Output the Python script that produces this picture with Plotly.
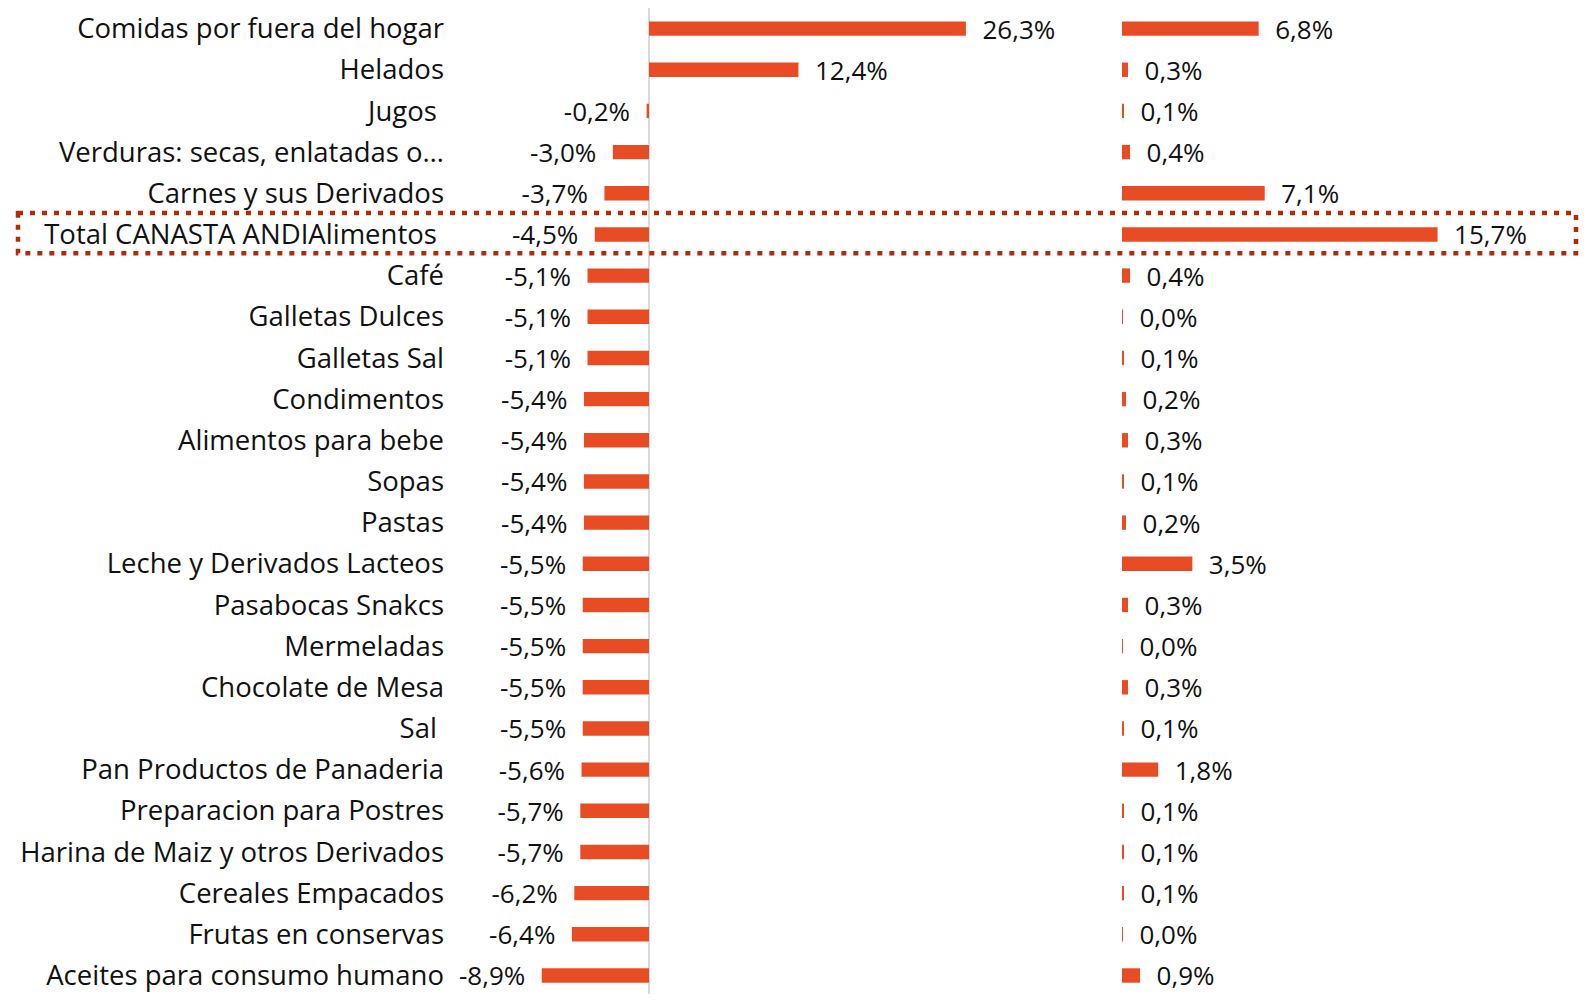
import plotly.graph_objects as go

# a página tem 8 px de margem no body: a figura começa em (8, 8)
W, H = 1572, 986

categorias = [
    "Comidas por fuera del hogar",
    "Helados",
    "Jugos\u00a0",
    "Verduras: secas, enlatadas o…",
    "Carnes y sus Derivados",
    "Total CANASTA ANDIAlimentos\u00a0",
    "Café",
    "Galletas Dulces",
    "Galletas Sal",
    "Condimentos",
    "Alimentos para bebe",
    "Sopas",
    "Pastas",
    "Leche y Derivados Lacteos",
    "Pasabocas Snakcs",
    "Mermeladas",
    "Chocolate de Mesa",
    "Sal\u00a0",
    "Pan Productos de Panaderia",
    "Preparacion para Postres",
    "Harina de Maiz y otros Derivados",
    "Cereales Empacados",
    "Frutas en conservas",
    "Aceites para consumo humano",
]

variacion = [26.3, 12.4, -0.2, -3.0, -3.7, -4.5, -5.1, -5.1, -5.1, -5.4, -5.4, -5.4,
             -5.4, -5.5, -5.5, -5.5, -5.5, -5.5, -5.6, -5.7, -5.7, -6.2, -6.4, -8.9]

participacion = [6.8, 0.3, 0.1, 0.4, 7.1, 15.7, 0.4, 0.02, 0.1, 0.2, 0.3, 0.1,
                 0.2, 3.5, 0.3, 0.02, 0.3, 0.1, 1.8, 0.1, 0.1, 0.1, 0.02, 0.9]

COR_BARRA = "#E84C25"
COR_CAIXA = "#B52A05"
FONTE = "Century Gothic, Open Sans, sans-serif"
TAM_ROTULO = 26
TAM_CAT = 27.5
PAD = "\u00a0\u00a0"


def rotulo(v):
    s = f"{v:.1f}%".replace(".", ",")
    return PAD + s if v >= 0 else s + PAD


fig = go.Figure()

for valores, eixo in [(variacion, "x"), (participacion, "x2")]:
    fig.add_trace(go.Bar(
        x=valores, y=categorias, orientation="h",
        marker=dict(color=COR_BARRA, line=dict(width=0)),
        width=0.35,
        text=[rotulo(v) for v in valores],
        textposition="outside", cliponaxis=False, constraintext="none",
        textfont=dict(family=FONTE, size=TAM_ROTULO, color="#111111"),
        xaxis=eixo, yaxis="y",
    ))

# escalas em pixels: zero esquerdo em 641 px (12,05 px/%), zero direito em 1114 px (20,1 px/%)
esq0, esq1 = 437, 1052
dir0, dir1 = 1072, W
PASSO = 41.17  # altura de cada linha em px
fig.update_layout(
    width=W, height=H,
    template="none",
    paper_bgcolor="white", plot_bgcolor="white",
    margin=dict(l=0, r=0, t=0, b=0),
    showlegend=False,
    font=dict(family=FONTE, size=TAM_ROTULO, color="#111111"),
    xaxis=dict(
        domain=[esq0 / W, esq1 / W],
        range=[(esq0 - 641) / 12.05, (esq1 - 641) / 12.05],
        showgrid=False, showticklabels=False, ticks="",
        zeroline=True, zerolinecolor="#D9D9D9", zerolinewidth=2,
        showline=False, automargin=False, fixedrange=True,
    ),
    xaxis2=dict(
        domain=[dir0 / W, dir1 / W],
        range=[(dir0 - 1114) / 20.1, (dir1 - 1114) / 20.1],
        showgrid=False, showticklabels=False, ticks="",
        zeroline=False, showline=False, automargin=False,
        anchor="y", fixedrange=True,
    ),
    yaxis=dict(
        range=[H / PASSO - 0.5, -0.5],
        showgrid=False, ticks="", showline=False, zeroline=False,
        automargin=False, fixedrange=True,
        tickfont=dict(family=FONTE, size=TAM_CAT, color="#111111"),
    ),
)

# caixa pontilhada em volta da linha do total
i_total = [c.strip() for c in categorias].index("Total CANASTA ANDIAlimentos")
fig.add_shape(
    type="rect", xref="paper", yref="y",
    x0=10 / W, x1=1568 / W, y0=i_total - 0.52, y1=i_total + 0.46,
    line=dict(color=COR_CAIXA, width=4.5, dash="5px,7px"),
    fillcolor="rgba(0,0,0,0)", layer="above",
)

fig.write_html("out.html")
